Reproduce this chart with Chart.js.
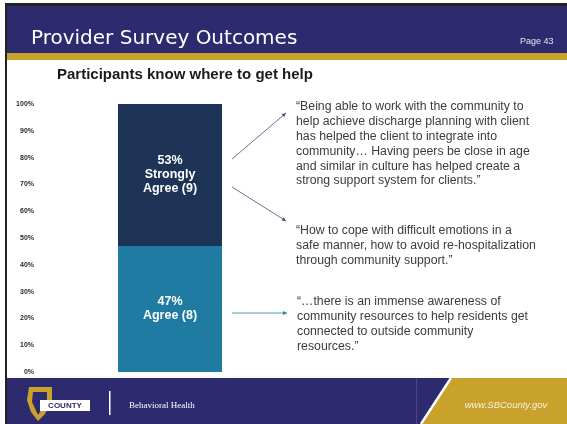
<!DOCTYPE html>
<html>
<head>
<meta charset="utf-8">
<script src="https://cdn.jsdelivr.net/npm/chart.js@4/dist/chart.umd.min.js"></script>
<style>
  html, body { margin: 0; padding: 0; background: #fff; }
  #wrap { width: 567px; height: 424px; }
</style>
</head>
<body>
<div id="wrap"><canvas id="chart" width="567" height="424"></canvas></div>
<script>
// data
var categories = ['Participants know where to get help'];
var agreeValues = [47];
var strongValues = [53];
var agreeCounts = [8];
var strongCounts = [9];
var yTicks = [0, 10, 20, 30, 40, 50, 60, 70, 80, 90, 100];

var quote1 = [
    '\u201cBeing able to work with the community to',
    'help achieve discharge planning with client',
    'has helped the client to integrate into',
    'community\u2026 Having peers be close in age',
    'and similar in culture has helped create a',
    'strong support system for clients.\u201d'
];
var quote2 = [
    '\u201cHow to cope with difficult emotions in a',
    'safe manner, how to avoid re-hospitalization',
    'through community support.\u201d'
];
var quote3 = [
    '\u201c\u2026there is an immense awareness of',
    'community resources to help residents get',
    'connected to outside community',
    'resources.\u201d'
];

var NAVY = '#2e2a70';
var GOLD = '#c9a22b';

function drawArrow(ctx, x1, y1, x2, y2, color) {
    var a = Math.atan2(y2 - y1, x2 - x1);
    ctx.save();
    ctx.strokeStyle = color;
    ctx.fillStyle = color;
    ctx.lineWidth = 0.8;
    ctx.beginPath();
    ctx.moveTo(x1, y1);
    ctx.lineTo(x2, y2);
    ctx.stroke();
    ctx.beginPath();
    ctx.moveTo(x2, y2);
    ctx.lineTo(x2 - 4.5 * Math.cos(a - 0.45), y2 - 4.5 * Math.sin(a - 0.45));
    ctx.lineTo(x2 - 4.5 * Math.cos(a + 0.45), y2 - 4.5 * Math.sin(a + 0.45));
    ctx.closePath();
    ctx.fill();
    ctx.restore();
}

function drawLines(ctx, lines, x, y, lh) {
    lines.forEach(function (l, i) {
        ctx.fillText(l, x, y + i * lh);
    });
}

var slidePlugin = {
    id: 'slide',
    beforeDraw: function (chart) {
        var ctx = chart.ctx;
        var W = chart.width, H = chart.height;
        ctx.save();
        ctx.fillStyle = '#fff';
        ctx.fillRect(0, 0, W, H);

        // slide frame
        ctx.fillStyle = '#222';
        ctx.fillRect(5, 3, W - 5, 3);
        ctx.fillRect(5, 3, 2, H - 3);

        // header
        ctx.fillStyle = NAVY;
        ctx.fillRect(7, 6, W - 7, 47);
        ctx.fillStyle = GOLD;
        ctx.fillRect(7, 53, W - 7, 7);

        ctx.fillStyle = '#fff';
        ctx.textBaseline = 'middle';
        ctx.textAlign = 'left';
        ctx.font = '20px "DejaVu Sans"';
        ctx.fillText('Provider Survey Outcomes', 31, 39);
        ctx.fillStyle = '#e4e4ee';
        ctx.font = '9px "Liberation Sans", Arial';
        ctx.fillText('Page 43', 520, 42);

        // chart heading
        ctx.fillStyle = '#1a1a1a';
        ctx.font = 'bold 15px "Liberation Sans", Arial';
        ctx.fillText(categories[0], 57, 75);

        // footer
        ctx.fillStyle = NAVY;
        ctx.fillRect(7, 378, W - 7, H - 378);
        ctx.fillStyle = '#4a4784';
        ctx.fillRect(416, 378, 1, H - 378);
        ctx.fillStyle = GOLD;
        ctx.beginPath();
        ctx.moveTo(452, 378);
        ctx.lineTo(W, 378);
        ctx.lineTo(W, H);
        ctx.lineTo(422, H);
        ctx.closePath();
        ctx.fill();
        ctx.strokeStyle = '#fff';
        ctx.lineWidth = 2.5;
        ctx.beginPath();
        ctx.moveTo(451, 378);
        ctx.lineTo(421, H);
        ctx.stroke();

        // county logo (rough)
        ctx.fillStyle = GOLD;
        ctx.beginPath();
        ctx.moveTo(29, 387);
        ctx.lineTo(52, 387);
        ctx.lineTo(52, 400);
        ctx.lineTo(45, 414);
        ctx.lineTo(38, 421);
        ctx.lineTo(31, 412);
        ctx.lineTo(27, 400);
        ctx.closePath();
        ctx.fill();
        ctx.fillStyle = NAVY;
        ctx.beginPath();
        ctx.moveTo(33, 392);
        ctx.lineTo(47, 392);
        ctx.lineTo(47, 401);
        ctx.lineTo(38, 415);
        ctx.lineTo(32, 402);
        ctx.closePath();
        ctx.fill();
        ctx.fillStyle = '#fff';
        ctx.fillRect(40, 400, 50, 11);
        ctx.fillStyle = NAVY;
        ctx.font = 'bold 8px "Liberation Sans", Arial';
        ctx.textAlign = 'center';
        ctx.fillText('COUNTY', 65, 406);
        ctx.fillStyle = '#fff';
        ctx.fillRect(109, 391, 1.5, 24);

        ctx.textAlign = 'left';
        ctx.font = '9px "Liberation Serif", serif';
        ctx.fillText('Behavioral Health', 129, 406);
        ctx.textAlign = 'center';
        ctx.fillStyle = '#f4f0e4';
        ctx.font = 'italic 9.5px "Liberation Sans", Arial';
        ctx.fillText('www.SBCounty.gov', 506, 405);

        // quotes
        ctx.textAlign = 'left';
        ctx.fillStyle = '#3c3c3c';
        ctx.font = '12.3px "Liberation Sans", Arial';
        drawLines(ctx, quote1, 296, 107, 14.8);
        drawLines(ctx, quote2, 296, 231, 15);
        drawLines(ctx, quote3, 297, 302, 15);
        ctx.restore();
    },
    afterDatasetsDraw: function (chart) {
        var ctx = chart.ctx;
        var low = chart.getDatasetMeta(0).data[0];
        var high = chart.getDatasetMeta(1).data[0];
        ctx.save();
        ctx.fillStyle = '#fff';
        ctx.font = 'bold 12.5px "Liberation Sans", Arial';
        ctx.textAlign = 'center';
        ctx.textBaseline = 'middle';
        var cy = (high.y + high.base) / 2;
        drawLines(ctx, [strongValues[0] + '%', 'Strongly', 'Agree (' + strongCounts[0] + ')'], high.x, cy - 14, 14);
        cy = (low.y + low.base) / 2;
        drawLines(ctx, [agreeValues[0] + '%', 'Agree (' + agreeCounts[0] + ')'], low.x, cy - 7, 14);

        // arrows from the bar to the quotes
        var sx = high.x + high.width / 2 + 10;
        drawArrow(ctx, sx, 159, 286, 113, '#3d4f7e');
        drawArrow(ctx, sx, 187, 286, 221, '#3d4f7e');
        drawArrow(ctx, sx, cy + 4, 287, cy + 4, '#2a80aa');
        ctx.restore();
    }
};

new Chart(document.getElementById('chart'), {
    type: 'bar',
    data: {
        labels: categories,
        datasets: [{
            label: 'Agree',
            data: agreeValues,
            backgroundColor: '#207ba2',
            barPercentage: 1,
            categoryPercentage: 0.4
        }, {
            label: 'Strongly Agree',
            data: strongValues,
            backgroundColor: '#1d3457',
            barPercentage: 1,
            categoryPercentage: 0.4
        }]
    },
    options: {
        responsive: false,
        animation: false,
        devicePixelRatio: 1,
        layout: { padding: { top: 104, bottom: 52, left: 0, right: 267 } },
        plugins: {
            legend: { display: false },
            tooltip: { enabled: false },
            title: { display: false }
        },
        scales: {
            x: { stacked: true, display: false },
            y: {
                stacked: true,
                min: 0,
                max: 100,
                afterBuildTicks: function (scale) {
                    scale.ticks = yTicks.map(function (v) { return { value: v }; });
                },
                afterFit: function (scale) { scale.width = 40; },
                grid: { display: false, drawTicks: false },
                border: { display: false },
                ticks: {
                    padding: 6,
                    color: '#2a2a2a',
                    font: { family: '"Liberation Sans", Arial', size: 7, weight: 'bold' },
                    callback: function (v) { return v + '%'; }
                }
            }
        }
    },
    plugins: [slidePlugin]
});
</script>
</body>
</html>
